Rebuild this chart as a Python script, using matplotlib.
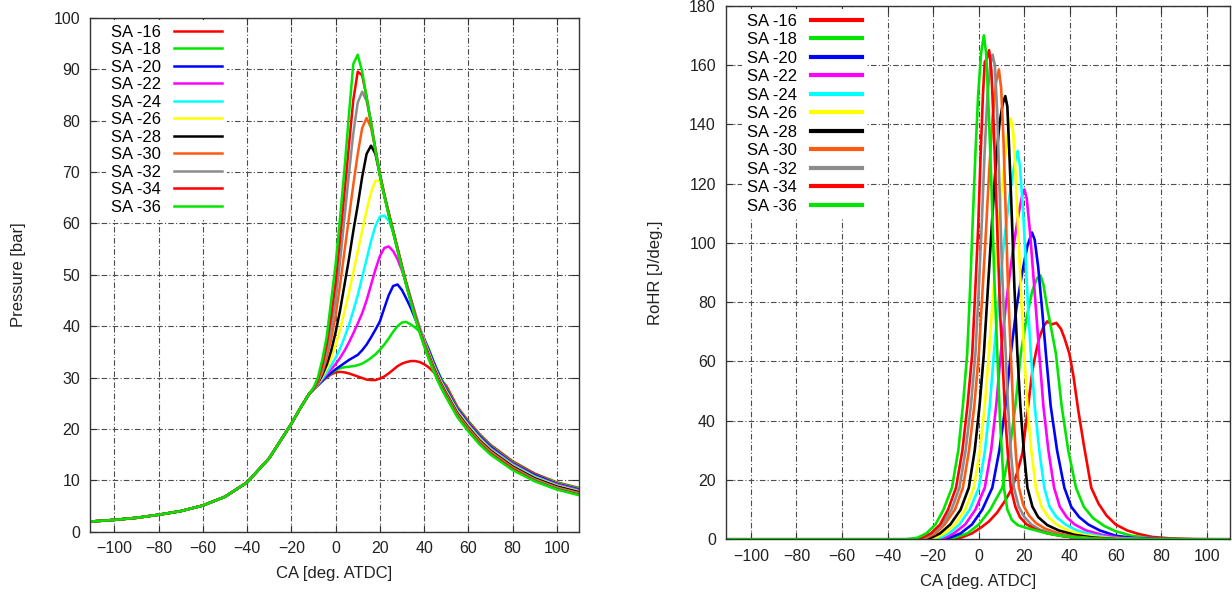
import numpy as np
import matplotlib
matplotlib.use("Agg")
import matplotlib.pyplot as plt

plt.rcParams['font.family'] = ['Liberation Sans', 'DejaVu Sans']

labels = ['SA -16', 'SA -18', 'SA -20', 'SA -22', 'SA -24', 'SA -26',
          'SA -28', 'SA -30', 'SA -32', 'SA -34', 'SA -36']
colors = ['#ff0000', '#00e600', '#0000ff', '#ff00ff', '#00ffff', '#ffff00',
          '#000000', '#ff5a14', '#8c8c8c', '#ff0000', '#00e600']

# ---- cylinder pressure [bar] ----
ca_common = [-110, -100, -90, -80, -70, -60, -50, -40, -30, -20, -16, -12]
p_common = [2.0, 2.3, 2.7, 3.3, 4.0, 5.1, 6.8, 9.6, 14.3, 21.0, 24.0, 26.8]
ca_mid = list(range(-10, 51, 2))
ca_tail = [55, 60, 65, 70, 80, 90, 100, 110]

p_sa16 = [27.7, 28.5, 29.3, 30.0, 30.6, 31.0, 31.1, 31.0, 30.8, 30.5, 30.2, 29.9, 29.6, 29.5, 29.5, 29.8,
          30.2, 30.8, 31.5, 32.2, 32.7, 33.0, 33.2, 33.2, 33.0, 32.6, 32.0, 31.2, 30.3, 29.4, 28.4,
          24.3, 21.5, 19.0, 16.9, 13.7, 11.3, 9.6, 8.5]
p_sa18 = [27.7, 28.5, 29.3, 30.1, 30.8, 31.4, 31.8, 32.0, 32.1, 32.2, 32.4, 32.7, 33.2, 33.8, 34.5, 35.4,
          36.4, 37.6, 38.9, 40.0, 40.7, 40.8, 40.3, 39.7, 38.9, 37.6, 35.7, 33.5, 31.4, 29.6, 28.0,
          24.1, 21.3, 18.8, 16.7, 13.5, 11.1, 9.5, 8.4]
p_sa20 = [27.7, 28.5, 29.4, 30.2, 30.9, 31.6, 32.2, 32.8, 33.4, 33.9, 34.4, 35.3, 36.4, 37.8, 39.3, 40.9,
          43.5, 46.0, 47.8, 48.1, 47.0, 45.3, 43.5, 41.4, 39.4, 37.5, 35.4, 33.2, 31.2, 29.3, 27.7,
          23.9, 21.1, 18.6, 16.5, 13.3, 11.0, 9.3, 8.2]
p_sa22 = [27.7, 28.6, 29.6, 30.6, 31.6, 32.6, 33.8, 35.2, 36.8, 38.6, 40.5, 42.5, 45.0, 48.0, 51.0, 53.6,
          55.2, 55.5, 54.6, 53.0, 50.8, 48.3, 45.4, 42.5, 39.7, 37.4, 35.1, 32.9, 30.9, 29.1, 27.5,
          23.7, 20.9, 18.4, 16.3, 13.2, 10.8, 9.2, 8.1]
p_sa24 = [27.7, 28.7, 29.8, 31.0, 32.3, 33.8, 35.6, 37.8, 40.2, 43.0, 46.0, 49.5, 53.0, 56.5, 59.5, 61.3,
          61.5, 60.5, 58.3, 55.1, 51.7, 48.4, 45.3, 42.3, 39.6, 37.2, 34.9, 32.7, 30.7, 28.9, 27.3,
          23.5, 20.7, 18.2, 16.1, 13.0, 10.7, 9.0, 7.9]
p_sa26 = [27.7, 28.8, 30.2, 31.8, 33.8, 36.3, 39.3, 42.8, 46.5, 50.5, 54.5, 58.5, 62.5, 66.0, 68.3, 68.2,
          65.4, 62.0, 58.7, 55.2, 51.7, 48.3, 45.2, 42.2, 39.4, 37.0, 34.7, 32.5, 30.5, 28.7, 27.1,
          23.3, 20.5, 18.0, 15.9, 12.8, 10.5, 8.9, 7.8]
p_sa28 = [27.7, 28.9, 30.5, 32.5, 35.2, 38.8, 43.0, 48.0, 53.0, 58.5, 63.5, 69.0, 73.5, 75.1, 73.5, 69.5,
          65.6, 62.0, 58.6, 55.1, 51.6, 48.2, 45.1, 42.1, 39.3, 36.8, 34.5, 32.3, 30.3, 28.5, 26.9,
          23.1, 20.3, 17.8, 15.8, 12.7, 10.4, 8.8, 7.7]
p_sa30 = [27.8, 29.0, 31.0, 33.8, 37.5, 42.0, 48.0, 54.5, 61.0, 67.5, 73.5, 78.5, 80.5, 78.6, 74.4, 69.6,
          65.6, 61.9, 58.5, 55.0, 51.5, 48.1, 45.0, 42.0, 39.2, 36.7, 34.3, 32.1, 30.1, 28.3, 26.7,
          22.9, 20.1, 17.6, 15.6, 12.5, 10.2, 8.6, 7.5]
p_sa32 = [27.8, 29.2, 31.8, 35.0, 39.5, 45.0, 52.5, 61.0, 69.5, 77.5, 83.5, 85.6, 83.8, 79.6, 74.4, 69.5,
          65.5, 61.8, 58.4, 54.9, 51.4, 48.0, 44.9, 41.9, 39.1, 36.5, 34.1, 31.9, 29.9, 28.1, 26.5,
          22.7, 19.9, 17.4, 15.4, 12.3, 10.1, 8.5, 7.4]
p_sa34 = [27.9, 29.5, 32.5, 36.5, 42.0, 48.5, 57.0, 66.0, 75.0, 84.0, 89.5, 88.8, 84.6, 79.6, 74.3, 69.4,
          65.4, 61.7, 58.3, 54.8, 51.3, 47.9, 44.8, 41.7, 38.9, 36.3, 33.9, 31.7, 29.7, 27.9, 26.3,
          22.5, 19.7, 17.2, 15.2, 12.2, 9.9, 8.3, 7.2]
p_sa36 = [28.0, 30.0, 33.5, 38.0, 45.0, 52.0, 61.0, 70.5, 81.0, 91.0, 92.8, 89.5, 84.5, 79.5, 74.2, 69.3,
          65.3, 61.6, 58.2, 54.7, 51.2, 47.8, 44.6, 41.5, 38.7, 36.1, 33.7, 31.5, 29.5, 27.7, 26.1,
          22.3, 19.5, 17.0, 15.0, 12.0, 9.8, 8.2, 7.1]

# ---- rate of heat release [J/deg.] ----
r_sa16_ca = [-110, -14, -8, -3, 1, 4.4, 8, 11.5, 14.7, 17, 19.1, 21.3, 23.5, 25, 26.5, 28.5, 30, 32, 34, 36,
             37.5, 39.7, 41.5, 43.5, 46, 49.3, 52.5, 56, 60, 65, 70, 76, 84, 95, 105, 110]
r_sa16 = [0, 0, 0.5, 2, 4, 6, 9, 13, 17.4, 23, 29, 43, 57, 63, 68, 72, 73.5, 72.5, 73, 71,
          68, 62.6, 55, 44, 32, 17.4, 12, 8, 5, 3, 1.8, 0.8, 0.3, 0.05, 0, 0]
r_sa18_ca = [-110, -17, -11, -5, 0, 5, 10.3, 13.5, 16, 18.4, 21, 23.5, 25.5, 27, 28.3, 30, 32, 33.8, 36.3,
             39.2, 42.6, 46, 50, 55, 60, 67, 75, 85, 95, 110]
r_sa18 = [0, 0, 0.5, 2, 5, 10, 17.4, 30, 45, 62.6, 75, 84, 88, 89, 86, 78, 70, 62.6, 45,
          30, 17.4, 11, 7.2, 4.5, 2.7, 1.2, 0.4, 0.1, 0, 0]
r_sa20_ca = [-110, -19, -13, -8, -3, 1.5, 5.9, 9, 11.7, 14, 16.5, 19, 21.3, 23.3, 24.5, 26, 27.8, 29.4, 31.5,
             34.3, 37.5, 40.5, 44, 48, 53, 60, 68, 78, 88, 110]
r_sa20 = [0, 0, 0.5, 2, 5, 10, 17.4, 30, 45, 62.6, 78, 90, 99, 103.5, 101, 92, 77, 62.6, 45,
          30, 17.4, 11, 7.5, 5, 3, 1.2, 0.4, 0.1, 0, 0]
r_sa22_ca = [-110, -21, -15, -11, -6, -1.5, 2.6, 5.4, 7.6, 9.6, 12, 14.5, 17, 19, 20, 21, 22.5, 24, 25.3,
             26.5, 28.3, 30.5, 33, 35.5, 38.5, 42, 47, 54, 62, 72, 82, 110]
r_sa22 = [0, 0, 0.5, 2, 5, 10, 17.4, 30, 45, 62.6, 80, 95, 108, 116, 118, 115, 103, 88, 75,
          62.6, 45, 30, 17.4, 11, 7.5, 5, 3, 1.5, 0.5, 0.1, 0, 0]
r_sa24_ca = [-110, -23, -17, -13, -8.5, -4, 0, 2.7, 4.8, 6.6, 8.8, 11, 13.5, 15.5, 17, 18, 19.3, 20.5, 21.6,
             22.8, 24.5, 26.5, 28.7, 31, 34, 38, 43, 50, 58, 68, 78, 110]
r_sa24 = [0, 0, 0.5, 2, 5, 10, 17.4, 30, 45, 62.6, 82, 100, 116, 126, 131, 126, 112, 95, 78,
          62.6, 45, 30, 17.4, 11, 7.5, 5, 3, 1.5, 0.5, 0.1, 0, 0]
r_sa26_ca = [-110, -25, -19, -15, -10.5, -6, -2.2, 0.5, 2.6, 4.4, 6.5, 8.5, 10.5, 12.5, 14, 15, 16, 17.5,
             18.7, 19.9, 21.3, 23, 25, 27.5, 30.5, 34, 39, 46, 55, 65, 75, 110]
r_sa26 = [0, 0, 0.5, 2, 5, 10, 17.4, 30, 45, 62.6, 85, 105, 122, 136, 142, 138, 125, 100,
          80, 62.6, 45, 30, 17.4, 11, 7.5, 5, 3, 1.5, 0.5, 0.1, 0, 0]
r_sa28_ca = [-110, -26, -21, -17, -12.5, -8, -4.4, -1.8, 0.3, 2.2, 4, 5.6, 7.3, 9, 10.5, 11.6, 12.5, 13.5,
             14.5, 15.6, 16.9, 18.2, 19.7, 21.3, 23.5, 26, 30, 35, 42, 50, 60, 70, 110]
r_sa28 = [0, 0, 0.5, 2, 5, 10, 17.4, 30, 45, 62.6, 85, 105, 125, 140, 147, 149.5, 146, 128,
          108, 85, 62.6, 45, 30, 17.4, 11, 7.5, 4.8, 3, 1.5, 0.6, 0.1, 0, 0]
r_sa30_ca = [-110, -28, -23, -19, -15, -10.5, -7, -4.3, -2, 0, 1.7, 3.2, 4.6, 6, 7.5, 8.8, 9.8, 10.8, 11.8,
             12.8, 14, 15.2, 16.3, 17.6, 19.5, 22, 25, 29, 35, 42, 52, 62, 110]
r_sa30 = [0, 0, 0.5, 2, 5, 10, 17.4, 30, 45, 62.6, 85, 105, 125, 142, 154, 158.5, 152, 135, 110,
          85, 62.6, 42, 28, 17.4, 11.5, 8, 5.5, 3.6, 2, 0.9, 0.2, 0, 0]
r_sa32_ca = [-110, -29, -24, -20, -16, -12, -8.5, -5.8, -3.5, -1.5, 0, 1.2, 2.5, 3.8, 5, 6, 7, 8, 9, 10,
             11, 11.8, 12.8, 14, 15.4, 17.5, 20, 23, 27, 33, 40, 50, 60, 110]
r_sa32 = [0, 0, 0.5, 2, 5, 10, 17.4, 30, 45, 62.6, 85, 105, 130, 150, 160, 163.5, 160, 145, 120, 95,
          75, 62.6, 45, 30, 17.4, 11, 7.5, 5, 3.2, 1.8, 0.8, 0.2, 0, 0]
r_sa34_ca = [-110, -30, -25, -21, -17, -13.5, -10, -7.2, -5, -2.9, -1.5, -0.3, 0.8, 1.8, 2.6, 3.4, 4.5,
             5.5, 6.5, 7.5, 8.5, 9.4, 10.3, 11.5, 12.8, 14, 16, 18, 21, 25, 30, 37, 46, 56, 110]
r_sa34 = [0, 0, 0.5, 2, 5, 10, 17.4, 30, 45, 62.6, 85, 105, 130, 150, 161, 162, 165,
          158, 140, 118, 95, 75, 62.6, 42, 28, 17.4, 11, 7.5, 5, 3.3, 2, 1, 0.3, 0, 0]
r_sa36_ca = [-110, -32, -27, -23, -19, -15.5, -11.8, -9, -7, -5.1, -3.8, -2.8, -1.5, -0.3, 1, 2.2, 3.2,
             4.3, 5.5, 6.7, 8.1, 9.3, 11, 12.5, 14.5, 17, 21, 25, 30, 36, 44, 54, 64, 110]
r_sa36 = [0, 0, 0.5, 2, 5, 10, 17.4, 30, 45, 62.6, 85, 105, 130, 150, 164, 170, 164,
          145, 120, 90, 62.6, 40, 17.4, 10, 6.5, 4.8, 3.8, 3, 2, 1.2, 0.5, 0.1, 0, 0]

p_curves = [p_sa16, p_sa18, p_sa20, p_sa22, p_sa24, p_sa26, p_sa28, p_sa30, p_sa32, p_sa34, p_sa36]
r_curves = [(r_sa16_ca, r_sa16), (r_sa18_ca, r_sa18), (r_sa20_ca, r_sa20), (r_sa22_ca, r_sa22),
            (r_sa24_ca, r_sa24), (r_sa26_ca, r_sa26), (r_sa28_ca, r_sa28), (r_sa30_ca, r_sa30),
            (r_sa32_ca, r_sa32), (r_sa34_ca, r_sa34), (r_sa36_ca, r_sa36)]

ca_p = ca_common + ca_mid + ca_tail

fig = plt.figure(figsize=(12.32, 5.96), dpi=100)
ax1 = fig.add_axes([90 / 1232, 1 - 531.7 / 596, 489 / 1232, 514 / 596])
ax2 = fig.add_axes([725.7 / 1232, 1 - 539.3 / 596, 504 / 1232, 533.6 / 596])


def style_axis(ax):
    ax.grid(True, color='0.3', linestyle=(0, (5, 2, 1, 2)), linewidth=0.8)
    ax.set_axisbelow(True)
    ax.tick_params(direction='in', length=5, width=0.8, top=True, right=True,
                   labelsize=11.5, colors='#333333', labelcolor='#222222', pad=7)
    for s in ax.spines.values():
        s.set_linewidth(1.0)
        s.set_color('#333333')
    ax.set_xlim(-111, 110)
    ax.set_xticks(np.arange(-100, 101, 20))
    ax.set_xlabel('CA [deg. ATDC]', fontsize=12, color='#222222', labelpad=7)


for lab, col, p in zip(labels, colors, p_curves):
    ax1.plot(ca_p, p_common + p, color=col, lw=1.8, label=lab)
style_axis(ax1)
ax1.set_ylim(0, 100)
ax1.set_yticks(np.arange(0, 101, 10))
ax1.set_ylabel('Pressure [bar]', fontsize=12, color='#222222', labelpad=20)
leg1 = ax1.legend(loc='upper left', bbox_to_anchor=(0.032, 0.996), borderaxespad=0,
                  markerfirst=False, fontsize=12, handlelength=2.9, handletextpad=0.78,
                  labelspacing=0.15, borderpad=0.3, frameon=True, fancybox=False,
                  edgecolor='none', facecolor='white', framealpha=1)

for lab, col, (x, r) in zip(labels, colors, r_curves):
    ax2.plot(x, r, color=col, lw=1.9, label=lab)
style_axis(ax2)
ax2.set_ylim(0, 180)
ax2.set_yticks(np.arange(0, 181, 20))
ax2.set_ylabel('RoHR [J/deg.]', fontsize=12, color='#222222', labelpad=19)
leg2 = ax2.legend(loc='upper left', bbox_to_anchor=(0.032, 0.9946), borderaxespad=0,
                  markerfirst=False, fontsize=12, handlelength=3.06, handletextpad=0.84,
                  labelspacing=0.21, borderpad=0.3, frameon=True, fancybox=False,
                  edgecolor='none', facecolor='white', framealpha=1)
for line in leg2.get_lines():
    line.set_linewidth(3)

fig.savefig('out.png', dpi=100)
